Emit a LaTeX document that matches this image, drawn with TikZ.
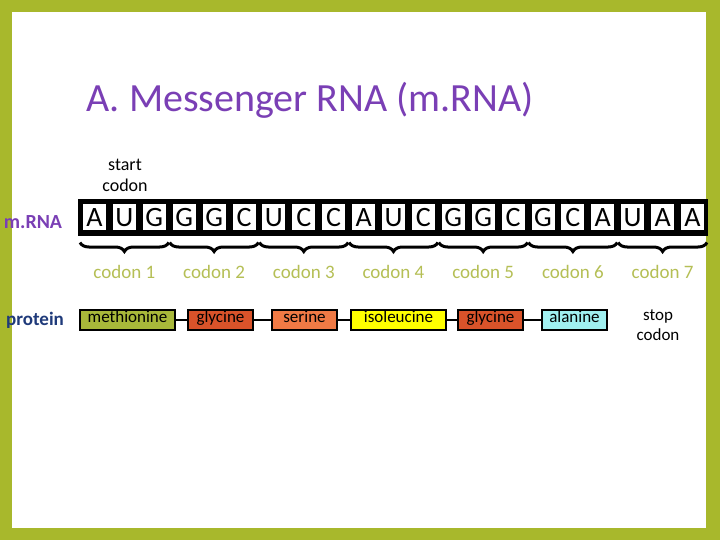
\documentclass[tikz,border=0pt]{standalone}
\usepackage{fontspec}
\setmainfont{Carlito}
\usepackage{xcolor}
\usetikzlibrary{decorations.pathreplacing,positioning}
\definecolor{frameolive}{HTML}{A8B82C}
\definecolor{codonolive}{HTML}{B5BF55}
\definecolor{titlepurple}{HTML}{7A3FB5}
\definecolor{protblue}{HTML}{1F3A7A}
\definecolor{metcol}{HTML}{A8B83A}
\definecolor{glycol}{HTML}{D9532A}
\definecolor{sercol}{HTML}{F07A45}
\definecolor{isocol}{HTML}{FFFF00}
\definecolor{alacol}{HTML}{A0F0F0}
\tikzset{
    base/.style={draw=black, line width=3pt, fill=white, minimum width=26pt,
        minimum height=29pt, inner sep=0pt, font=\fontsize{28}{28}\selectfont},
    amino/.style={draw=black, line width=1.2pt, minimum height=20pt, inner sep=2pt,
        text height=1.6ex, text depth=.4ex, font=\fontsize{17}{17}\selectfont},
    codonlabel/.style={text=codonolive, font=\fontsize{19}{19}\selectfont},
    thebrace/.style={decorate, decoration={brace, mirror, amplitude=9pt}, line width=3pt}
}
\begin{document}
\begin{tikzpicture}[x=1pt, y=-1pt]
\fill[frameolive] (0,0) rectangle (720,540);
\fill[white] (12,12) rectangle (706,528);
\useasboundingbox (0,0) rectangle (720,540);

\node (title) [text=titlepurple, font=\fontsize{40}{40}\selectfont] at (310,100) {A. Messenger RNA (m.RNA)};
\node (start) [align=center, font=\fontsize{18}{21}\selectfont] at (125,175) {start\\codon};

% mRNA strand
\fill[black] (78,199) rectangle (708,236);
\foreach \b [count=\i] in {A,U,G,G,G,C,U,C,C,A,U,C,G,G,C,G,C,A,U,A,A}
    \node (b\i) [base] at ({94.5+(\i-1)*29.9},217.5) {\b};
\node (mrna) [text=titlepurple, font=\bfseries\fontsize{20}{20}\selectfont] at (33,222) {m.RNA};

% codons
\foreach \c [evaluate=\c as \f using int(3*\c-2), evaluate=\c as \m using int(3*\c-1),
             evaluate=\c as \l using int(3*\c)] in {1,...,7} {
    \draw[thebrace] ([yshift=-9pt]b\f.south west) -- ([yshift=-9pt]b\l.south east);
    \node (c\c) [codonlabel] at ([yshift=-38pt]b\m.south) {codon \c};
}

% protein
\node (protein) [text=protblue, font=\bfseries\fontsize{19}{19}\selectfont] at (35,320) {protein};
\node (met) [amino, fill=metcol, minimum width=95pt] at (127.5,320) {methionine};
\node (gly1) [amino, fill=glycol, minimum width=65pt] at (220.5,320) {glycine};
\node (ser) [amino, fill=sercol, minimum width=65pt] at (304.5,320) {serine};
\node (iso) [amino, fill=isocol, minimum width=95pt] at (398.5,320) {isoleucine};
\node (gly2) [amino, fill=glycol, minimum width=65pt] at (490.5,320) {glycine};
\node (ala) [amino, fill=alacol, minimum width=65pt] at (574.5,320) {alanine};
\node (stop) [align=center, font=\fontsize{17}{20}\selectfont] at (658,325) {stop\\codon};
\foreach \p/\q in {met/gly1, gly1/ser, ser/iso, iso/gly2, gly2/ala}
    \draw[line width=1.2pt] (\p) -- (\q);
\end{tikzpicture}
\end{document}
